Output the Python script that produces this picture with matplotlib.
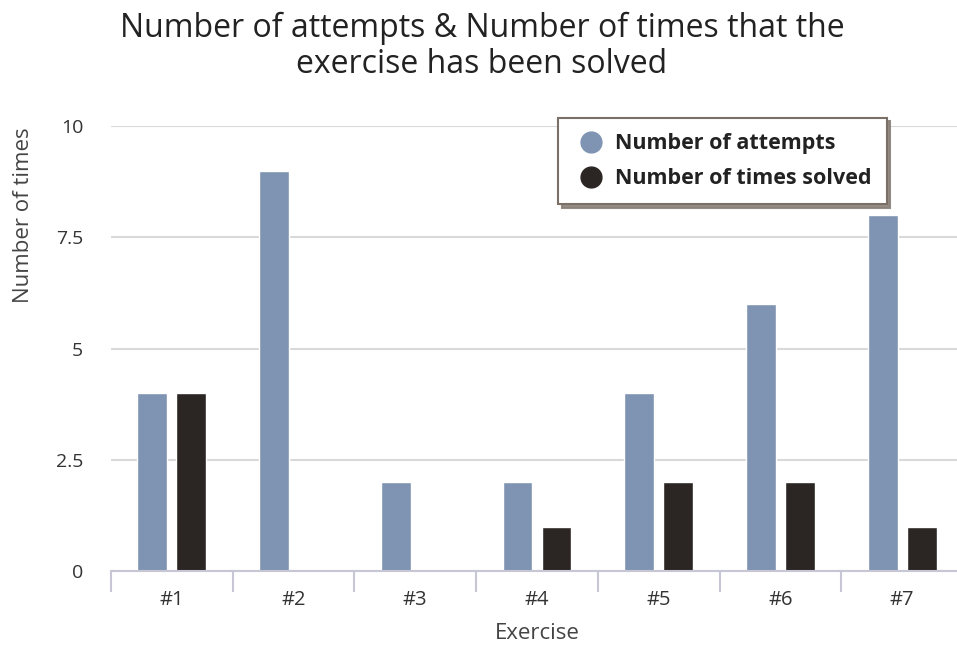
import matplotlib
matplotlib.use("Agg")
import matplotlib.pyplot as plt
from matplotlib.lines import Line2D
import numpy as np

categories = ["#1", "#2", "#3", "#4", "#5", "#6", "#7"]
attempts = [4, 9, 2, 2, 4, 6, 8]
solved = [4, 0, 0, 1, 2, 2, 1]
y_ticks = [0, 2.5, 5, 7.5, 10]
y_tick_labels = ["0", "2.5", "5", "7.5", "10"]

title = "Number of attempts & Number of times that the\nexercise has been solved"
series_names = ["Number of attempts", "Number of times solved"]
colors = ["#7f93b3", "#2b2623"]

plt.rcParams["font.family"] = ["Open Sans", "DejaVu Sans"]

W, H = 957, 645
fig = plt.figure(figsize=(W / 100, H / 100), dpi=100)
fig.patch.set_facecolor("white")

left, right, bottom, top = 111, 963, 571, 126
ax = fig.add_axes([left / W, (H - bottom) / H, (right - left) / W, (bottom - top) / H])
ax.set_facecolor("white")

x = np.arange(len(categories))
bw = 0.245
off = 0.16
ax.bar(x - off, attempts, bw, color=colors[0], edgecolor="white", linewidth=1, zorder=3)
ax.bar(x + off, solved, bw, color=colors[1], edgecolor="white", linewidth=1, zorder=3)

ax.set_xlim(-0.5, len(categories) - 0.5)
ax.set_ylim(0, 10)

for s in ["top", "right", "left"]:
    ax.spines[s].set_visible(False)
ax.spines["bottom"].set_color("#c6c6d4")
ax.spines["bottom"].set_linewidth(1.5)
ax.spines["bottom"].set_zorder(4)

ax.set_yticks(y_ticks)
ax.set_yticklabels(y_tick_labels)
ax.tick_params(axis="y", length=0, pad=20, labelsize=14, labelcolor="#333333")
ax.yaxis.grid(True, color="#d9d9d9", linewidth=1.5, zorder=0)
ax.set_axisbelow(True)

# category labels at centers, boundary ticks between them
ax.set_xticks(x)
ax.set_xticklabels(categories)
ax.tick_params(axis="x", which="major", length=0, pad=14, labelsize=14.5, labelcolor="#333333")
ax.set_xticks(np.arange(-0.5, len(categories) + 0.5, 1), minor=True)
ax.tick_params(axis="x", which="minor", length=15, width=1.5, color="#c6c6d4", direction="out")

ax.set_xlabel("Exercise", fontsize=16, color="#444444", labelpad=9)
ax.set_ylabel("Number of times", fontsize=16, color="#444444")
ax.yaxis.set_label_coords(-0.0905, 0.8)

fig.text(482 / W, 1 - 46 / H, title, ha="center", va="center", fontsize=23,
         color="#222222", linespacing=1.12)

handles = [Line2D([], [], linestyle="none", marker="o", markersize=15,
                  markerfacecolor=c, markeredgecolor=c) for c in colors]
leg = ax.legend(handles, series_names, loc="upper right",
                bbox_to_anchor=(887 / W, 1 - 118 / H), bbox_transform=fig.transFigure,
                borderaxespad=0, frameon=True, fancybox=False, borderpad=0.7,
                handletextpad=0.35, labelspacing=0.65, handlelength=1.6,
                prop={"weight": "bold", "size": 15.5},
                shadow={"color": "#8a8078", "alpha": 0.9, "ox": 2.5, "oy": -2.5})
leg.get_frame().set_edgecolor("#7a7068")
leg.get_frame().set_linewidth(1.5)
for t in leg.get_texts():
    t.set_color("#222222")
leg.set_zorder(10)

fig.savefig("out.png", dpi=100)
